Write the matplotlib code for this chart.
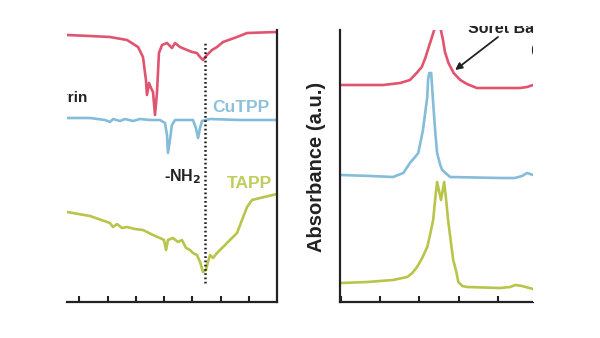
import matplotlib
matplotlib.use("Agg")
import matplotlib.pyplot as plt
from matplotlib.patches import Rectangle

# ---------------- FTIR (left panel), wavenumber in cm-1, reversed axis ----------------
ir_por_x = [1887, 1724, 1583, 1462, 1384, 1349, 1328, 1321, 1306, 1292, 1278, 1264, 1250, 1236,
            1214, 1179, 1144, 1122, 1087, 1037, 1002, 967, 945, 924, 896, 860, 825, 782,
            683, 612, 400]
ir_por_y = [267, 266, 265, 262, 255, 245, 222, 207, 219, 214, 210, 187, 209, 249,
            257, 259, 254, 259, 255, 252, 250, 249, 245, 242, 247, 252, 255, 260,
            265, 269, 270]

ir_cu_x = [1887, 1724, 1618, 1583, 1561, 1512, 1476, 1420, 1370, 1299, 1229, 1193, 1179,
           1172, 1158, 1144, 1122, 995, 974, 959, 945, 931, 874, 662, 400]
ir_cu_y = [184, 184, 182, 180, 183, 181, 183, 181, 183, 182, 182, 179, 167,
           149, 162, 177, 182, 182, 174, 164, 174, 181, 183, 182, 182]

ir_tapp_x = [1887, 1724, 1583, 1561, 1533, 1498, 1462, 1406, 1349, 1278, 1229, 1200, 1186,
             1172, 1137, 1101, 1073, 1044, 1016, 995, 967, 945, 924, 903, 889, 874, 853,
             825, 782, 733, 683, 648, 612, 577, 520, 400]
ir_tapp_y = [90, 86, 79, 75, 78, 74, 75, 73, 72, 67, 64, 62, 52,
             62, 64, 60, 62, 54, 52, 49, 47, 40, 30, 32, 40, 47, 44,
             49, 55, 62, 69, 82, 95, 102, 104, 108]

ir_xlim = [1887, 400]
ir_xticks = [1800, 1600, 1400, 1200, 1000, 800, 600]
ir_marker_x = 910
ir_marker_y = [19, 260]

# ---------------- UV-vis (right panel), wavelength in nm ----------------
uv_por_x = [201, 249, 308, 351, 376, 393, 406, 415, 423, 432, 440, 446, 453, 460, 465,
            474, 487, 504, 521, 546, 605, 656, 674, 689]
uv_por_y = [217, 217, 217, 219, 222, 229, 235, 244, 254, 265, 275, 310, 275, 262, 250,
            239, 229, 222, 218, 214, 214, 214, 215, 217]

uv_cu_x = [201, 275, 333, 359, 376, 389, 397, 404, 409, 415, 420, 422, 425, 430, 432,
           435, 440, 445, 453, 458, 478, 605, 643, 661, 674, 689]
uv_cu_y = [127, 126, 125, 129, 139, 145, 149, 162, 172, 190, 205, 222, 229, 229, 217,
           199, 172, 149, 137, 132, 125, 124, 124, 126, 129, 127]

uv_tapp_x = [201, 267, 333, 369, 382, 394, 407, 420, 427, 435, 440, 445, 455, 463, 468,
             473, 481, 486, 494, 499, 509, 521, 605, 631, 644, 661, 689]
uv_tapp_y = [19, 20, 22, 25, 29, 35, 44, 55, 67, 82, 102, 120, 102, 120, 102,
             82, 57, 42, 30, 20, 16, 15, 14, 15, 17, 16, 13]

uv_xlim = [198, 689]
uv_xticks = [200, 300, 400, 500, 600]

red = "#e0546f"
blue = "#84bcd9"
green = "#b8c54a"
axc = "#222222"

plt.rcParams['font.family'] = ['Liberation Sans', 'DejaVu Sans']

fig = plt.figure(figsize=(6.0, 3.38), dpi=100)
ax1 = fig.add_axes([67/600, 36/338, 210/600, 272/338])
ax2 = fig.add_axes([340/600, 36/338, 193/600, 272/338])

lw = 1.9
ax1.plot(ir_por_x, ir_por_y, color=red, lw=lw)
ax1.plot(ir_cu_x, ir_cu_y, color=blue, lw=lw)
ax1.plot(ir_tapp_x, ir_tapp_y, color=green, lw=lw)
ax1.plot([ir_marker_x, ir_marker_x], ir_marker_y, color="#222222", lw=1.8,
         linestyle=(0, (0.7, 1.0)))
ax1.set_xlim(*ir_xlim)
ax1.set_ylim(0, 272)
ax1.set_xticks(ir_xticks)

ax1.text(1746, 204, "Porphyrin", ha="right", va="center", fontsize=11,
         fontweight="bold", color="#222222", clip_on=True)
ax1.text(860, 195, "CuTPP", ha="left", va="center", fontsize=12.5,
         fontweight="bold", color="#8cc0dc", clip_on=True)
ax1.text(1200, 125, r"-NH$_\mathbf{2}$", ha="left", va="center", fontsize=11.5,
         fontweight="bold", color="#222222", clip_on=True)
ax1.text(754, 119, "TAPP", ha="left", va="center", fontsize=12.5,
         fontweight="bold", color="#c0cc5c", clip_on=True)

ax2.plot(uv_por_x, uv_por_y, color=red, lw=lw)
ax2.plot(uv_cu_x, uv_cu_y, color=blue, lw=lw)
ax2.plot(uv_tapp_x, uv_tapp_y, color=green, lw=lw)
ax2.set_xlim(*uv_xlim)
ax2.set_ylim(0, 272)
ax2.set_xticks(uv_xticks)

# label text reaches a little above the plot window before the crop edge
ax2.text(524, 269, "Soret Band", ha="left", va="baseline", fontsize=11.5,
         fontweight="bold", color="#222222", clip_on=False, zorder=3)
ax2.text(681, 252, "(a)", ha="left", va="center", fontsize=10,
         color="#222222", clip_on=True)
ax2.annotate("", xy=(491, 232), xytext=(600, 265),
             arrowprops=dict(arrowstyle="-|>", color="#222222", lw=1.3,
                             mutation_scale=10, shrinkA=0, shrinkB=0),
             annotation_clip=False)
# crop masks (the reference is a cropped panel)
ax2.add_patch(Rectangle((0, 1 + 4/272), 1.5, 0.2, transform=ax2.transAxes, clip_on=False,
                        facecolor="white", edgecolor="none", zorder=50))
ax2.add_patch(Rectangle((1, 0), 0.5, 1.3, transform=ax2.transAxes, clip_on=False,
                        facecolor="white", edgecolor="none", zorder=50))

for ax in (ax1, ax2):
    ax.set_yticks([])
    ax.spines["top"].set_visible(False)
    for s in ax.spines.values():
        s.set_linewidth(1.6)
        s.set_color(axc)
    ax.tick_params(axis="x", direction="in", length=4, width=1.5, color=axc,
                   labelbottom=False)
ax1.spines["left"].set_visible(False)
ax2.spines["right"].set_visible(False)

fig.text(317/600, 1 - 167/338, "Absorbance (a.u.)", rotation=90, ha="center",
         va="center", fontsize=14.5, fontweight="bold", color="#222222")

fig.savefig("out.png", dpi=100)
